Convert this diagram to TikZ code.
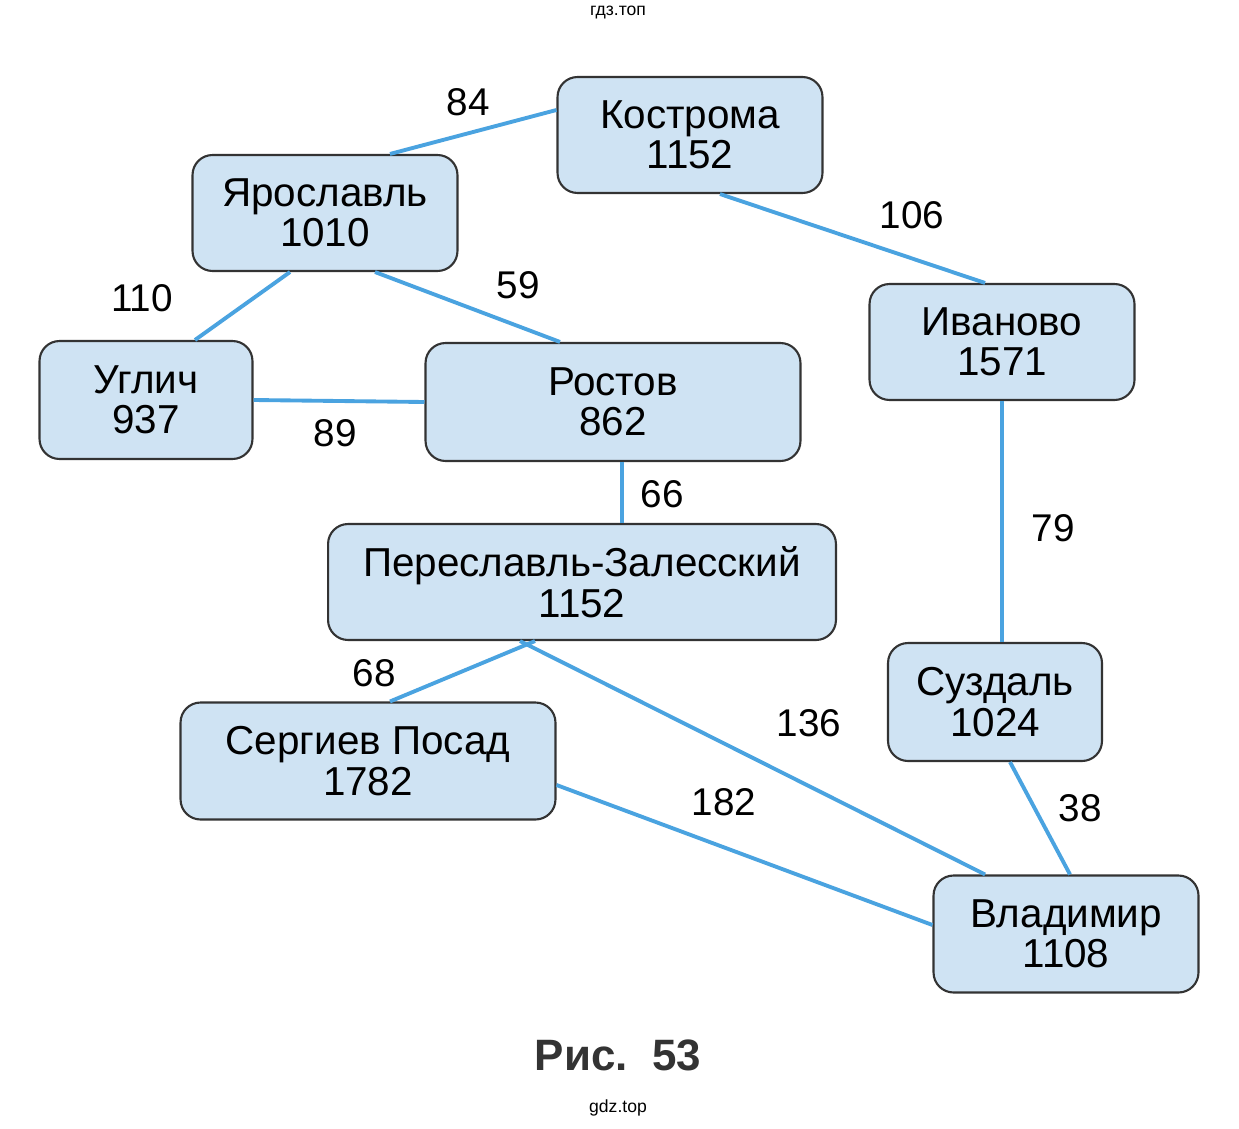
\documentclass[tikz,border=0pt]{standalone}
\usepackage{fontspec}
\setmainfont{Liberation Sans}
\usetikzlibrary{calc}
\definecolor{boxfill}{HTML}{CFE3F3}
\definecolor{edgec}{HTML}{4AA3E0}
\begin{document}
\begin{tikzpicture}[x=0.02cm,y=-0.02cm,
  city/.style={draw=black!80,line width=1.2pt,fill=boxfill,rounded corners=0.4cm,align=center,inner sep=0pt,font=\fontsize{23}{23}\selectfont},
  road/.style={draw=edgec,line width=2.2pt},
  lbl/.style={font=\fontsize{22}{26}\selectfont}]
\useasboundingbox[fill=white] (0,0) rectangle (1239,1128);
\node[city,minimum width=5.3cm,minimum height=2.32cm] (kos) at (690,135) {Кострома\\1152};
\node[city,minimum width=5.3cm,minimum height=2.32cm] (yar) at (325,213) {Ярославль\\1010};
\node[city,minimum width=4.26cm,minimum height=2.36cm] (ugl) at (146,400) {Углич\\937};
\node[city,minimum width=7.5cm,minimum height=2.36cm] (ros) at (613,402) {Ростов\\862};
\node[city,minimum width=5.3cm,minimum height=2.32cm] (iva) at (1002,342) {Иваново\\1571};
\node[city,minimum width=10.16cm,minimum height=2.32cm] (per) at (582,582) {Переславль-Залесский\\1152};
\node[city,minimum width=4.28cm,minimum height=2.36cm] (suz) at (995,702) {Суздаль\\1024};
\node[city,minimum width=7.5cm,minimum height=2.34cm] (ser) at (368,761) {Сергиев Посад\\1782};
\node[city,minimum width=5.3cm,minimum height=2.34cm] (vla) at (1066,934) {Владимир\\1108};
\draw[road] ($(yar.north)+(65,0)$) -- ($(kos.west)+(0,-25)$);
\draw[road] ($(kos.south)+(30,0)$) -- ($(iva.north)+(-17,0)$);
\draw[road] ($(yar.south)+(-35,0)$) -- ($(ugl.north)+(49,0)$);
\draw[road] ($(yar.south)+(50,0)$) -- ($(ros.north)+(-53,0)$);
\draw[road] (ugl.east) -- (ros.west);
\draw[road] ($(ros.south)+(9,0)$) -- ($(per.north)+(40,0)$);
\draw[road] (iva.south) -- ($(suz.north)+(7,0)$);
\draw[road] ($(per.south)+(-47,0)$) -- ($(ser.north)+(22,0)$);
\draw[road] ($(per.south)+(-62,0)$) -- ($(vla.north)+(-81,0)$);
\draw[road] ($(ser.east)+(0,24)$) -- ($(vla.west)+(0,-9)$);
\draw[road] ($(suz.south)+(15,0)$) -- ($(vla.north)+(4,0)$);
\node[lbl] (l84) at (468,102) {84};
\node[lbl] (l106) at (912,215) {106};
\node[lbl] (l110) at (142,298) {110};
\node[lbl] (l59) at (518,285) {59};
\node[lbl] (l89) at (335,433) {89};
\node[lbl] (l66) at (662,494) {66};
\node[lbl] (l79) at (1053,528) {79};
\node[lbl] (l68) at (374,673) {68};
\node[lbl] (l136) at (809,723) {136};
\node[lbl] (l182) at (724,802) {182};
\node[lbl] (l38) at (1080,808) {38};
\node[font=\fontsize{25}{30}\selectfont\bfseries,text=black!80] (cap) at (618,1055) {Рис.\ \ 53};
\node[font=\fontsize{10}{12}\selectfont] (wm1) at (618,13) {гдз.топ};
\node[font=\fontsize{10}{12}\selectfont] (wm2) at (618,1108) {gdz.top};
\end{tikzpicture}
\end{document}
